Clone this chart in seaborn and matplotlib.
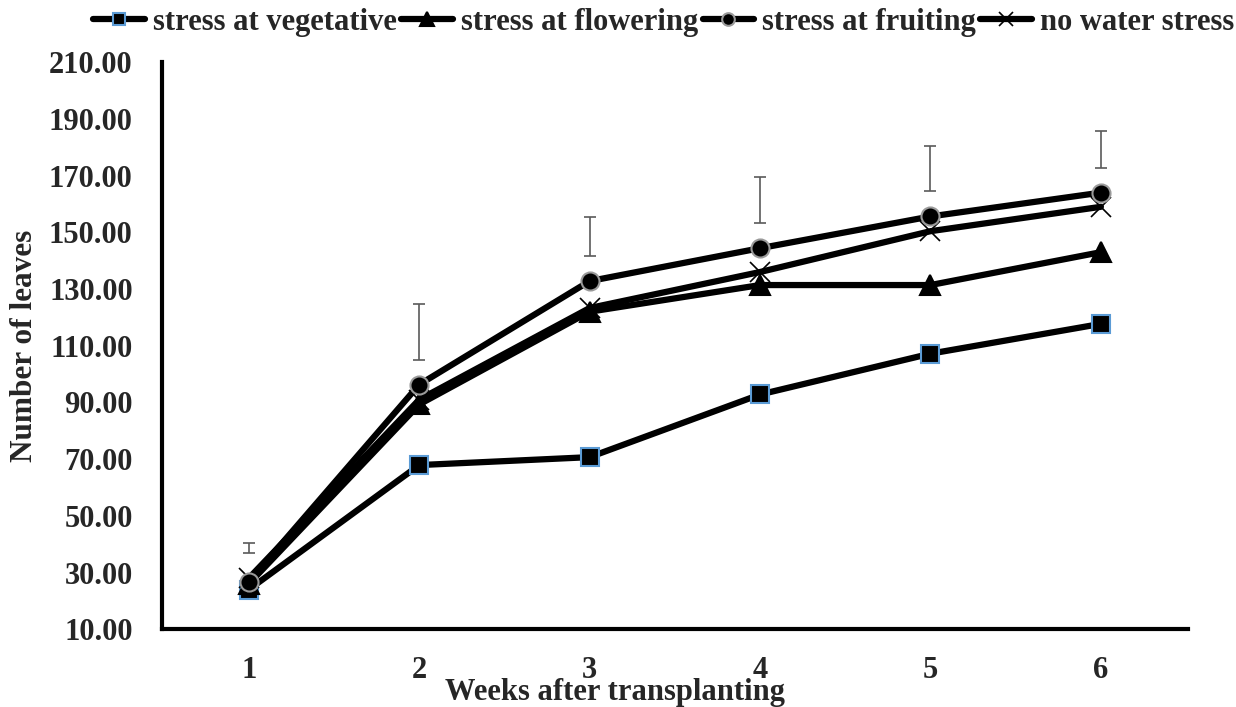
import matplotlib
matplotlib.use("Agg")
import matplotlib.pyplot as plt
import seaborn as sns
import pandas as pd

weeks = [1, 2, 3, 4, 5, 6]
vegetative = [24.0, 67.9, 70.7, 92.8, 107.2, 117.7]
flowering = [26.0, 89.3, 122.0, 131.4, 131.4, 143.0]
fruiting = [26.8, 96.3, 132.8, 144.4, 155.6, 164.0]
no_stress = [28.0, 91.0, 123.3, 136.0, 150.4, 159.0]
err_low = [37.0, 105.0, 141.6, 153.2, 164.4, 172.8]
err_high = [40.5, 124.7, 155.3, 169.6, 180.5, 185.8]
yticks = [10, 30, 50, 70, 90, 110, 130, 150, 170, 190, 210]

sns.set_style("white")
plt.rcParams['font.family'] = ['Liberation Serif', 'DejaVu Serif']
plt.rcParams['font.weight'] = 'bold'

fig = plt.figure(figsize=(12.36, 7.07), dpi=100)
ax = fig.add_axes([0.131, 0.110, 0.830, 0.802])

# vegetative, flowering, no stress, fruiting (draw order; fruiting on top)
series = [
    ("stress at vegetative", vegetative, "s", "#5B9BD5", 13),
    ("stress at flowering", flowering, "^", "black", 14),
    ("no water stress", no_stress, "x", "black", 14),
    ("stress at fruiting", fruiting, "o", "#9a9a9a", 13),
]
for name, vals, mk, edge, ms in series:
    df = pd.DataFrame({"week": weeks, "leaves": vals})
    sns.lineplot(data=df, x="week", y="leaves", ax=ax, color="black", lw=4.5,
                 marker=mk, markersize=ms, markerfacecolor="black",
                 markeredgecolor=edge, markeredgewidth=1.2 if mk == "x" else 1.5,
                 label=name)

mid = [(a + b) / 2 for a, b in zip(err_low, err_high)]
half = [(b - a) / 2 for a, b in zip(err_low, err_high)]
ax.errorbar(weeks, mid, yerr=half, fmt="none", ecolor="#5a5a5a",
            elinewidth=1.2, capsize=4.5, capthick=1.2)

ax.set_xlim(0.49, 6.51)
ax.set_ylim(10, 210)
ax.set_xticks(weeks)
ax.set_xticklabels([str(w) for w in weeks])
ax.set_yticks(yticks)
ax.set_yticklabels([f"{t:.2f}" for t in yticks])
ax.tick_params(axis="both", labelsize=22, length=0)
ax.tick_params(axis="x", pad=19)
ax.tick_params(axis="y", pad=21)
for lab in ax.get_xticklabels() + ax.get_yticklabels():
    lab.set_fontweight("bold")
ax.set_xlabel("Weeks after transplanting", fontsize=22, fontweight="bold")
ax.xaxis.set_label_coords(0.442, -0.086)
ax.set_ylabel("Number of leaves", fontsize=22.5, fontweight="bold")
ax.yaxis.set_label_coords(-0.12, 0.5)
sns.despine(ax=ax)
for s in ["left", "bottom"]:
    ax.spines[s].set_linewidth(3)
    ax.spines[s].set_color("black")

handles, labels = ax.get_legend_handles_labels()
order = [0, 1, 3, 2]
ax.get_legend().remove()
fig.legend([handles[i] for i in order], [labels[i] for i in order],
           loc="center", bbox_to_anchor=(0.537, 0.968), ncol=4, frameon=False,
           handlelength=1.7, columnspacing=0.15, handletextpad=0.25,
           prop={"weight": "bold", "size": 22}, markerscale=0.7)

fig.savefig("out.png", dpi=100)
